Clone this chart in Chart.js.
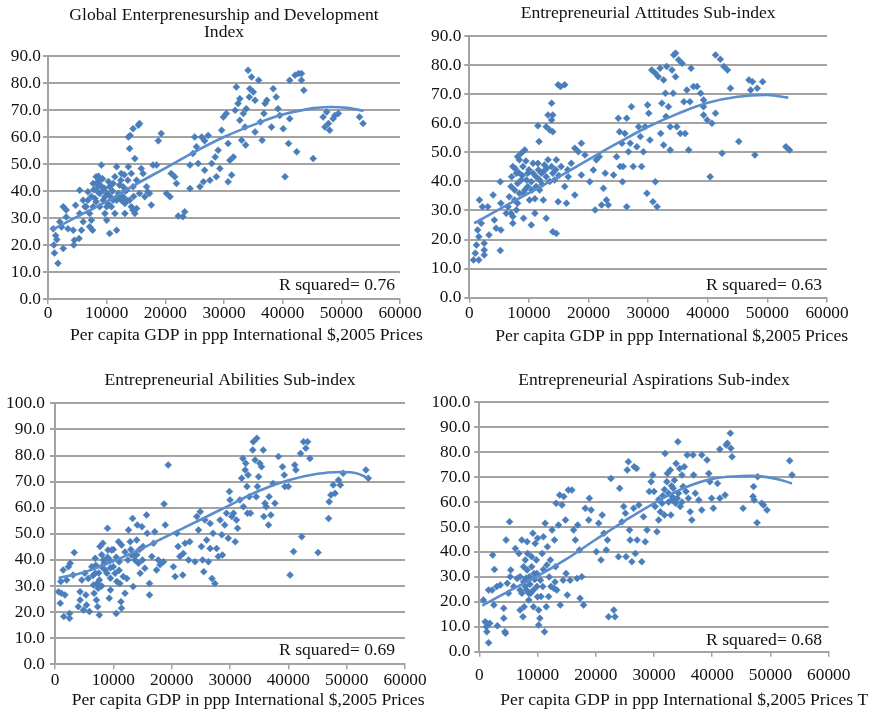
<!DOCTYPE html>
<html>
<head>
<meta charset="utf-8">
<title>GEDI and per capita GDP</title>
<script src="https://cdn.jsdelivr.net/npm/chart.js"></script>
<style>
    body { margin: 0; background: #ffffff; }
    #wrap { position: relative; width: 874px; height: 713px; overflow: hidden; background: #ffffff; }
    #wrap canvas { position: absolute; }
</style>
</head>
<body>
<div id="wrap">
    <canvas id="gedi" width="437" height="350" style="left:0px;top:0px"></canvas>
    <canvas id="attitudes" width="474" height="350" style="left:400px;top:0px"></canvas>
    <canvas id="abilities" width="450" height="363" style="left:0px;top:350px"></canvas>
    <canvas id="aspirations" width="454" height="363" style="left:420px;top:350px"></canvas>
</div>
<script>
// Países: [PIB per capita (ppp, US$ 2005), pontuação do índice]
var gediPoints = [
    [1000,20],[1100,17],[1700,13.2],[1300,23.5],[1500,22],[2000,28.6],[2600,34.2],[2600,18.7],[2300,26.7],[3100,30.4],
    [3400,26],[4300,25.5],[4500,21.8],[4700,34.7],[4400,20],[5400,40.3],[5400,31.7],[5700,25.5],[5300,22.4],[6000,28.6],
    [6500,34.2],[6800,36.6],[7100,31.7],[7400,29.2],[7600,25.5],[8000,37.2],[7700,42.8],[8200,45.3],[8500,41.6],[8800,34.2],
    [9100,49.6],[8800,39.1],[9400,36.6],[9700,31.7],[10000,29.2],[10200,35.4],[10500,24.3],[10500,41.6],[11100,42.8],[11400,45.3],
    [11400,31.7],[11700,25.5],[11700,49],[12000,39.1],[12200,42.2],[12500,46.5],[12800,37.9],[13100,31.7],[13400,40.3],[13700,60],
    [13900,55.7],[14000,60.6],[14500,63.1],[14800,31.7],[14800,52],[15100,44],[15400,64.4],[15600,65],[15600,39.1],[15900,48.3],
    [16200,46.5],[16800,41.6],[17300,39.1],[17600,34.8],[17900,49.6],[18500,49.6],[18800,58.6],[19300,61.3],[20200,39.1],[20800,37.9],
    [21000,46.5],[21600,45.3],[21900,42.8],[22200,30.7],[23000,30.5],[23300,32.3],[24200,40.9],[24200,49.6],[24700,53.9],[25000,60],
    [25300,56.4],[25600,50.2],[25900,41.6],[26200,60],[26500,43.4],[26700,47.7],[26700,58.6],[27300,60.6],[27600,44],[27900,50.2],
    [28500,52.6],[28700,45.3],[29000,55.1],[29300,48.3],[29600,62.5],[29900,67.4],[30400,68.7],[30700,57.6],[30700,43.4],[31000,51.4],
    [31300,45.9],[31600,52.6],[31900,69.9],[32100,78.5],[32400,72.4],[32700,74.2],[32700,66.2],[33000,58.8],[33300,68.7],[33600,63.7],
    [33700,57],[33800,70.5],[34100,84.7],[34300,74.8],[34400,77.9],[34700,82.2],[35000,76.7],[35300,73.6],[35300,61.9],[35900,81],
    [36200,65.6],[36500,58.8],[36800,68.7],[37000,72.4],[37300,73.6],[38100,63.7],[38400,77.9],[38900,74.8],[39200,70.5],[39500,68],
    [40100,63.1],[40400,45.3],[41000,57.6],[41200,81],[41200,66.8],[42100,82.9],[42400,54.5],[42700,83.5],[43200,83.5],[43200,81],
    [43600,77.3],[45200,52],[46900,67.4],[47200,63.7],[47500,69.3],[47800,65],[48000,62.5],[48600,66.8],[48900,68],[49500,68.7],
    [53100,67.4],[53700,65],[7100,26.8],[7700,34.2],[8200,36],[8500,39.7],[8800,44],[9400,40.3],[9700,37.9],[10000,34.2],
    [10100,39.1],[10800,34.2],[11100,36.6],[11700,36.6],[12200,37.9],[12500,36.6],[13100,35.4],[13400,36.6],[13900,36.6],[14200,34.2],
    [14500,32.9],[15100,33.5],[16500,37.9],[17000,39.7],[13700,49],[14200,46.5],[14500,41.6],[12800,41.6],[900,26],[3100,33],
    [6000,36.6],[6300,34.2],[6800,39.7],[8300,43],[8600,45.5],[9000,42],[9300,44.5],[9600,41],[10300,43.5],[10600,38],
    [11000,40],[7400,38],[7800,40.5],[12400,44],[13000,46],[13200,40],[13600,44],[14600,38]
];

var attitudesPoints = [
    [700,13],[1600,13],[1000,15.3],[1200,18.1],[1600,21],[1400,23.3],[2000,25.6],[1700,33.6],[2200,31.3],[2500,16.4],
    [2500,18.7],[2500,14.7],[3100,31.3],[3300,21.6],[4000,35.3],[4200,26.7],[4500,23.9],[5200,39.9],[5300,32.5],[5200,16.2],
    [5300,23.3],[6200,29],[6500,31.3],[7000,38.2],[7300,45.1],[7300,25.6],[7600,33.6],[7900,30.2],[8100,39.3],[8100,48.5],
    [8700,49.7],[9000,45.1],[9100,35.9],[9100,27.3],[9300,50.8],[9600,40.5],[9800,42.8],[10100,33.6],[10400,25],[10700,46.2],
    [11000,29],[11200,38.2],[11500,46.2],[11500,59.1],[11700,53.7],[11800,37],[12100,42.8],[12400,33.6],[12600,45.6],[12900,27.3],
    [12900,58.8],[13200,62.8],[13500,57.7],[13800,66.9],[13800,61.1],[14000,62.8],[14000,57.1],[14000,22.7],[14300,40.5],[14600,22.1],
    [14600,47.4],[14900,33],[14900,73.2],[15300,72.6],[16000,73.2],[15400,45.1],[16000,38.2],[16300,32.5],[16600,41.6],[17100,46.2],
    [17700,35.3],[17700,51.4],[18300,50.2],[18800,53.1],[18800,42.2],[19400,49.1],[20200,39.9],[20800,43.9],[21100,30.2],[21300,47.4],
    [21800,48.5],[22200,31.9],[22500,37.6],[22800,42.8],[23000,33.6],[23300,31.9],[24200,42.2],[24700,48.5],[25000,61.7],[25200,57.1],
    [25300,45.1],[25600,53.1],[25700,39.9],[25800,45.1],[26100,56.5],[26400,61.7],[26400,31.3],[26700,50.2],[27000,53.1],[27200,65.7],
    [27500,45.1],[28100,51.9],[28400,58.8],[28700,55.4],[28900,45.1],[29200,50.2],[29500,58.8],[29800,35.9],[29900,66.3],[30100,63.4],
    [30300,54.2],[30600,78.3],[30800,33],[31200,39.9],[31500,31.3],[31200,77.2],[31700,76],[32000,78.9],[32100,56.5],[32300,66.9],
    [32600,74.9],[32600,52.5],[32900,70.3],[33000,62.3],[33100,79.5],[33400,65.7],[33700,58.8],[33700,50.8],[34000,78.3],[34200,70.3],
    [34300,83.5],[34600,84.1],[34600,76],[34800,58.8],[35100,81.8],[35400,56.5],[35700,80.6],[36000,67.4],[36200,56.5],[36500,71.4],
    [36800,50.8],[37000,67.4],[37200,78.9],[37600,72.6],[38200,72.6],[38800,70.3],[39300,68],[39300,62.8],[39300,65.7],[39900,61.1],
    [40400,41.6],[40700,60],[41300,63.4],[41300,83.5],[42100,82],[42400,49.7],[42700,79.5],[43300,78.3],[43800,72],[45200,53.7],
    [46900,74.9],[47200,71.4],[47500,74.3],[47900,49.1],[48300,72],[49200,74.3],[53100,51.9],[53700,50.8],[6700,34.7],[7600,37],
    [8100,32.5],[8400,35.9],[8700,40.5],[9300,37],[9800,38.2],[10400,39.9],[10700,42.8],[11200,41.6],[11800,40.5],[12400,43.3],
    [12900,41.6],[13200,47.4],[13800,45.1],[14000,42.8],[7900,42.8],[8400,47.4],[7000,29],[7300,27.9],[7100,41.6],[7700,44.4],
    [8300,43],[8900,42],[9500,47],[10000,44],[10500,37],[11000,34],[11600,44],[12200,39],[13000,44.5],[13500,40],
    [14500,44],[15000,42],[16500,44]
];

var abilitiesPoints = [
    [600,27.8],[900,23.4],[1100,27.2],[1000,31.7],[1400,36.1],[1500,18.3],[1700,26.6],[2000,32.3],[2300,37.4],[2500,19.5],
    [2500,17.6],[2600,38.7],[3100,34.2],[3300,42.8],[4000,22.1],[4300,27.8],[4300,24.6],[4600,32.3],[4900,20.8],[5100,34.9],
    [5300,26.6],[5400,22.7],[5700,32.9],[5900,20.2],[6300,37.4],[6600,30.4],[6700,27.2],[6900,40.6],[6900,34.9],[7100,24.6],
    [7300,22.1],[7400,29.1],[7600,32.3],[7600,18.9],[7700,45.1],[8000,37.4],[8200,46.4],[8300,40],[8600,36.1],[8900,34.9],
    [9000,52.1],[9100,43.8],[9300,25.3],[9400,40],[9500,28.5],[9700,43.8],[10000,37.4],[10300,34.9],[10500,19.5],[10600,31.7],
    [10900,47],[11000,39.3],[11100,31],[11300,24],[11400,21.5],[11400,45.7],[11700,33.6],[12000,27.2],[12300,32.9],[12600,51.5],
    [12900,47],[13100,41.9],[13300,55.9],[13400,29.8],[13700,40],[14000,47.6],[14100,53.4],[14300,38.7],[14600,34.9],[14900,52.7],
    [15100,45.1],[15400,36.8],[15700,57.2],[15800,50.2],[16200,31],[16200,26.6],[16600,41.3],[16900,46.4],[17100,50.8],[17400,36.1],
    [17700,40],[18000,38.1],[18600,39.3],[18700,61.4],[18900,53.4],[19400,76.4],[20300,37.4],[20600,33.6],[20900,50.2],[21100,45.1],
    [21400,41.3],[21900,34.2],[22000,42.5],[22300,46.4],[22900,40],[23100,47],[24000,39.3],[24300,56.6],[24600,51.5],[24900,58.5],
    [25100,45.1],[25300,40],[25500,35.5],[25700,55.3],[26000,47.6],[26300,39.3],[26600,54],[26600,44.4],[26900,32.9],[27100,50.2],
    [27400,31],[27700,44.4],[28000,41.3],[28300,55.3],[28600,49.6],[28700,41.9],[29100,53.4],[29400,57.9],[29700,48.3],[29900,66.2],
    [30000,63],[30300,56.6],[30600,57.9],[30900,47],[31100,55.3],[31300,52.1],[31700,63],[32000,71.3],[32200,78.9],[32300,60.4],
    [32600,74.5],[32700,77],[32900,68.1],[33000,57.9],[33100,72.5],[33300,64.2],[33500,57.9],[33900,82.1],[34000,85.3],[34300,78.3],
    [34500,64.2],[34600,86.6],[34700,68.1],[34900,71.9],[35100,77],[35400,75.7],[35700,82.1],[35800,56.6],[36000,61.7],[36200,60.4],
    [36600,53.4],[36700,64.2],[37000,57.2],[37400,69.3],[37700,61.7],[38300,79.6],[39000,75.7],[39300,72.5],[39400,68.1],[40000,68.1],
    [40300,34.2],[40900,43.2],[41100,76.4],[41300,74.5],[42100,80.8],[42300,48.9],[42600,85.3],[43000,82.8],[43300,85.3],[43700,78.9],
    [45100,42.8],[46900,55.9],[47000,62.3],[47300,64.9],[47700,68.7],[48000,65.5],[48600,70.6],[48900,68.7],[49400,73.2],[53300,74.5],
    [53700,71.3],[7000,38],[7500,35],[8000,42],[8500,39],[9000,41],[9500,37],[10000,44],[10500,41],[11000,36],
    [12000,43],[12500,40],[13000,44],[13500,42],[14000,42],[14500,44],[15000,40],[6500,34],[7200,31],[8000,30],[9500,33]
];

var aspirationsPoints = [
    [700,20.7],[1000,12],[1200,10],[1300,11.4],[1600,3.6],[1800,11.4],[1300,8],[1600,24.7],[2200,24.7],[2300,38.8],
    [2600,33],[2500,18.7],[3000,26.1],[3100,10.4],[3600,26.7],[4200,17.4],[4200,13.4],[4400,8],[4500,7.4],[4600,44.8],
    [4800,27.4],[5000,23.4],[5200,52.1],[5300,30.1],[5400,32.8],[5900,26.1],[6200,41.4],[6500,29.4],[6800,39.4],[7000,16.7],
    [7000,30.1],[7300,44.8],[7300,23.4],[7500,14],[7600,34.1],[7700,18],[7900,36.8],[8100,24.7],[8200,44.1],[8300,39.4],
    [8500,20.7],[8600,30.1],[8800,23.4],[9000,38.1],[9200,47.5],[9300,18],[9400,31.4],[9600,43.4],[9800,36.8],[9900,26.1],
    [10000,45.5],[10200,16.7],[10200,10.7],[10400,13.4],[10600,22.1],[10800,39.4],[10900,26.1],[11000,46.1],[11200,8],[11300,51.5],
    [11500,18],[11600,34.8],[11700,42.1],[11900,22.1],[12200,36.8],[12300,26.1],[12500,48.8],[12800,25.4],[12900,44.8],[13100,34.1],
    [13200,59.5],[13300,24.7],[13600,50.8],[13800,62.8],[13900,18.7],[14200,58.8],[14400,28.7],[14500,62.2],[14800,52.8],[14900,31.4],
    [15100,22.7],[15300,64.8],[15600,28.7],[15900,64.8],[16200,48.8],[16500,44.8],[16800,29.4],[16900,50.8],[17200,40.8],[17300,21.4],
    [17600,30.1],[17900,18.7],[18200,57.5],[18800,52.8],[18900,61.5],[19200,56.8],[20100,40.1],[20500,51.5],[20900,36.8],[21100,54.8],
    [21400,47.5],[21800,40.8],[22000,44.8],[22200,14],[22600,69.5],[23100,16.7],[23300,14],[23900,38.1],[24100,65.5],[24500,52.1],
    [24800,58.2],[25100,55.5],[25200,38.1],[25400,72.9],[25600,76.2],[25800,48.8],[25900,44.8],[26200,36.1],[26500,57.5],[26600,74.2],
    [26800,39.4],[27000,73.5],[27100,44.8],[27400,58.8],[27900,36.1],[28200,54.1],[28500,44.1],[28800,48.8],[29200,64.2],[29500,68.2],
    [29800,70.9],[30000,64.2],[30200,58.2],[30500,48.1],[30800,52.8],[31100,56.1],[31400,59.5],[31800,54.8],[31900,79.5],[32200,68.2],
    [32300,71.5],[32500,63.5],[32800,72.9],[32900,54.8],[33100,60.8],[33300,65.5],[33500,68.8],[33700,59.5],[33800,75.5],[34100,84.2],
    [34200,63.5],[34400,73.5],[34500,58.2],[34800,70.9],[35000,66.2],[35200,74.2],[35500,64.2],[35700,78.9],[35900,61.5],[36200,56.1],
    [36500,52.8],[36700,78.9],[36800,70.9],[37100,63.5],[37700,60.8],[38200,78.9],[38200,56.8],[39100,76.9],[39400,71.5],[39600,68.2],
    [39900,61.5],[40200,57.5],[40900,67.5],[41300,61.5],[41300,81.2],[42200,62.8],[42400,82.9],[42600,83.6],[43100,87.6],[43200,81.6],
    [43400,78.2],[45300,57.5],[47100,66.2],[47000,62.2],[47200,60.8],[47700,51.7],[47800,70.2],[48500,59.5],[48800,58.8],[49400,56.8],
    [53300,76.6],[53700,70.9],[7600,28.1],[7900,26.1],[7000,24.7],[8200,32.8],[8500,23.4],[9000,34.1],[9300,24.7],[9900,31.4],
    [10500,28.7],[8000,29.5],[8700,27],[9500,29],[10000,22],[11000,33],[12000,30],[13000,28],[30800,61],[31500,62.5],
    [32500,60],[33200,62],[34000,61.5],[34800,60],[33000,66.5],[31800,65]
];

// Linhas de tendência (polinomiais)
var gediTrend = [[600,25.5],[5000,30.5],[10000,36.2],[15000,42.5],[20000,48.5],[25000,54.5],[30000,60],[35000,64.5],[40000,68.3],[45000,70.6],[48000,71.1],[51000,70.8],[53800,69.7]];
var attitudesTrend = [[800,25.6],[5000,30.4],[10000,36],[15000,41.6],[20000,47.5],[25000,53.3],[30000,58.8],[35000,63.3],[40000,67],[45000,69.1],[50000,69.7],[53500,68.8]];
var abilitiesTrend = [[600,33.1],[5000,35.3],[10000,39.5],[15000,44.5],[20000,50],[25000,55.5],[30000,61],[35000,66.5],[40000,70.5],[45000,73],[49000,73.7],[51500,73.3],[53700,71.4]];
var aspirationsTrend = [[500,18.5],[5000,24.2],[10000,30.3],[15000,37.2],[20000,45],[25000,52.5],[30000,59.5],[35000,65.5],[40000,69.3],[45000,70.4],[48000,70.4],[51000,69.3],[53700,67.5]];

var panelTitles = [
    ['Global Enterprenesurship and Development', 'Index'],
    'Entrepreneurial Attitudes Sub-index',
    'Entrepreneurial Abilities Sub-index',
    'Entrepreneurial Aspirations Sub-index'
];
var rSquared = [0.76, 0.63, 0.69, 0.68];
var yMaxima = [90, 90, 100, 100];
var gdpTicks = [0, 10000, 20000, 30000, 40000, 50000, 60000];
var gdpCaption = 'Per capita GDP in ppp International $,2005 Prices';

var SERIF = '"Liberation Serif", "Times New Roman", serif';
var BLUE = '#4a7ebb';
var GRID = '#a3a3a3';

Chart.defaults.font.family = SERIF;
Chart.defaults.font.size = 17;
Chart.defaults.color = '#111111';
Chart.defaults.animation = false;

// Texto do eixo X e do R² desenhados dentro do canvas
var panelNotes = {
    id: 'panelNotes',
    afterDraw: function (chart, args, opts) {
        var ctx = chart.ctx;
        var area = chart.chartArea;
        ctx.save();
        ctx.font = '17.6px ' + SERIF;
        ctx.fillStyle = '#111111';
        ctx.textBaseline = 'alphabetic';
        ctx.textAlign = 'right';
        ctx.fillText(opts.note, area.right - opts.noteRight, area.bottom - opts.noteBottom);
        ctx.textAlign = 'left';
        ctx.textBaseline = 'middle';
        ctx.fillText(opts.caption, opts.captionX, opts.captionY);
        ctx.restore();
    }
};

function toXY(pairs) {
    return pairs.map(function (p) { return { x: p[0], y: p[1] }; });
}

function makePanel(canvasId, index, points, trend, box) {
    var ctx = document.getElementById(canvasId).getContext('2d');
    var title = panelTitles[index];
    return new Chart(ctx, {
        type: 'scatter',
        data: {
            datasets: [
                {
                    label: 'Tendência',
                    data: toXY(trend),
                    showLine: true,
                    borderColor: '#5b8ccb',
                    borderWidth: 2.6,
                    pointRadius: 0,
                    tension: 0.4,
                    fill: false
                },
                {
                    label: 'Países',
                    data: toXY(points),
                    pointStyle: 'rectRot',
                    pointRadius: 3.5,
                    backgroundColor: BLUE,
                    borderColor: BLUE,
                    borderWidth: 0.5
                }
            ]
        },
        options: {
            responsive: false,
            maintainAspectRatio: false,
            layout: { padding: { left: 0, right: box.padRight, top: 0, bottom: 0 } },
            scales: {
                x: {
                    type: 'linear',
                    min: 0,
                    max: 60000,
                    afterBuildTicks: function (scale) {
                        scale.ticks = gdpTicks.map(function (v) { return { value: v }; });
                    },
                    afterFit: function (scale) { scale.height = box.xHeight; },
                    ticks: {
                        padding: box.xTickPad,
                        maxRotation: 0,
                        autoSkip: false,
                        font: { size: 17.3, lineHeight: 1 },
                        callback: function (v) { return String(v); }
                    },
                    grid: {
                        drawOnChartArea: false,
                        drawTicks: true,
                        tickLength: 5,
                        color: GRID,
                        lineWidth: 1.5
                    },
                    border: { display: true, color: GRID, width: 2 }
                },
                y: {
                    min: 0,
                    max: yMaxima[index],
                    afterFit: function (scale) { scale.width = box.yWidth; },
                    ticks: {
                        stepSize: 10,
                        padding: box.yTickPad,
                        font: { size: 17.3, lineHeight: 1 },
                        callback: function (v) { return v.toFixed(1); }
                    },
                    grid: {
                        color: GRID,
                        lineWidth: 2,
                        drawTicks: true,
                        tickLength: 5
                    },
                    border: { display: true, color: GRID, width: 2 }
                }
            },
            plugins: {
                legend: { display: false },
                tooltip: { enabled: false },
                title: {
                    display: true,
                    text: title,
                    fullSize: false,
                    color: '#111111',
                    font: { size: 17.6, weight: 'normal', lineHeight: 0.985 },
                    padding: { top: box.titleTop, bottom: box.titleBottom }
                },
                panelNotes: {
                    note: 'R squared= ' + rSquared[index].toFixed(2),
                    noteRight: box.noteRight,
                    noteBottom: box.noteBottom,
                    caption: box.caption,
                    captionX: box.captionX,
                    captionY: box.captionY
                }
            }
        },
        plugins: [panelNotes]
    });
}

document.addEventListener('DOMContentLoaded', function () {
    makePanel('gedi', 0, gediPoints, gediTrend, {
        padRight: 37, yWidth: 48, xHeight: 51, xTickPad: 1, yTickPad: 2,
        titleTop: 6.35, titleBottom: 15, noteRight: 5, noteBottom: 9,
        caption: gdpCaption, captionX: 70, captionY: 335
    });
    makePanel('attitudes', 1, attitudesPoints, attitudesTrend, {
        padRight: 47, yWidth: 69.3, xHeight: 52.3, xTickPad: 1.8, yTickPad: 3,
        titleTop: 4.65, titleBottom: 14, noteRight: 5, noteBottom: 7.7,
        caption: gdpCaption, captionX: 95.3, captionY: 336.7
    });
    makePanel('abilities', 2, abilitiesPoints, abilitiesTrend, {
        padRight: 45, yWidth: 55, xHeight: 48.7, xTickPad: 2.2, yTickPad: 5,
        titleTop: 22.05, titleBottom: 13.95, noteRight: 10, noteBottom: 9.3,
        caption: gdpCaption, captionX: 71.7, captionY: 350.7
    });
    makePanel('aspirations', 3, aspirationsPoints, aspirationsTrend, {
        padRight: 45.3, yWidth: 59.3, xHeight: 61.3, xTickPad: 9.8, yTickPad: 4,
        titleTop: 21.35, titleBottom: 13.65, noteRight: 6.7, noteBottom: 6.7,
        caption: gdpCaption + ' T', captionX: 80.3, captionY: 350.7
    });
});
</script>
</body>
</html>
